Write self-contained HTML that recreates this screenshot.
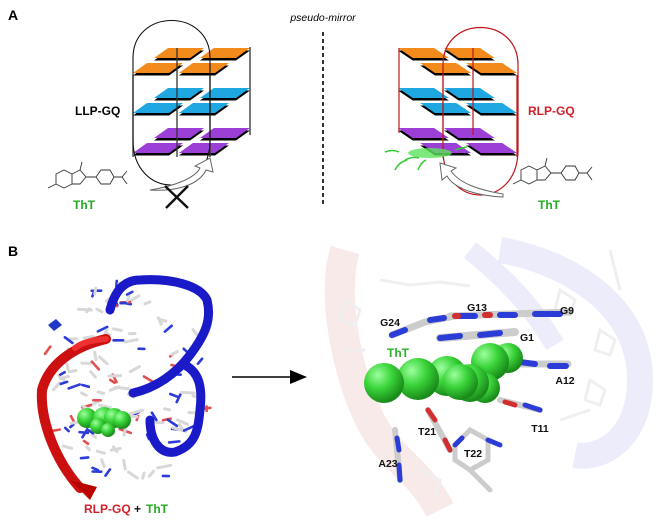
<!DOCTYPE html>
<html><head><meta charset="utf-8">
<style>
html,body{margin:0;padding:0;background:#fff;width:660px;height:523px;overflow:hidden}
svg{display:block}
text{font-family:"Liberation Sans",sans-serif}
</style></head><body>
<svg id="s" width="660" height="523" viewBox="0 0 660 523" xmlns="http://www.w3.org/2000/svg">
<defs>
<radialGradient id="g" cx="35%" cy="30%" r="70%"><stop offset="0" stop-color="#9dff9d"/><stop offset="0.5" stop-color="#3ad43a"/><stop offset="1" stop-color="#1a8a1a"/></radialGradient>
</defs>
<text x="8" y="20" font-size="14" font-weight="bold">A</text>
<text x="8" y="256" font-size="14" font-weight="bold">B</text>
<text x="323" y="21" font-size="10.5" font-style="italic" text-anchor="middle">pseudo-mirror</text>
<line x1="323" y1="32" x2="323" y2="205" stroke="#000" stroke-width="1.6" stroke-dasharray="4,3"/>

<g id="left"></g>
<path d="M133,75 L133,157 M177,48 L177,157 M210,75 L210,157 M250,47 L250,135" stroke="#333" stroke-width="1.3" fill="none"/>
<path d="M133,140 L133,58 C133,8 210,8 210,58 L210,140 C210,200 133,200 133,140" stroke="#111" stroke-width="1.1" fill="none"/>
<text x="75" y="115" font-size="12" font-weight="bold">LLP-GQ</text>
<g id="right"></g>
<path d="M399,48 L399,133 M443,70 L443,158 M473,48 L473,135 M517,75 L517,157" stroke="#c0141a" stroke-width="1.2" fill="none"/>
<path d="M443,140 L443,65 C443,15 518,15 518,65 L518,150 C518,210 443,210 443,150" stroke="#c0141a" stroke-width="1.2" fill="none"/>
<text x="528" y="115" font-size="12" font-weight="bold" fill="#d0212a">RLP-GQ</text>
<ellipse cx="430" cy="153" rx="22" ry="5" fill="#5de35d" opacity="0.8"/>
<path d="M385,152 q8,-3 14,0 M395,170 q4,-8 12,-10 M418,170 q3,-8 8,-10 M440,165 q6,4 12,6 M405,160 q8,-4 14,-2 M455,150 q6,-2 12,-3" stroke="#3c3" stroke-width="1.5" fill="none"/>
<path d="M150,190 C175,186 195,178 200,168 L195,166 L210,158 L213,172 L206,170 C200,183 180,192 150,190 Z" fill="#fff" stroke="#666" stroke-width="1"/>
<path d="M165,186 L188,208 M188,186 L166,208" stroke="#111" stroke-width="2.4"/>
<path d="M503,197 C480,196 455,190 447,176 L442,180 L440,163 L456,168 L451,171 C460,184 480,190 503,194 Z" fill="#fff" stroke="#666" stroke-width="1"/>
<g stroke="#333" stroke-width="0.9" fill="none">
<path d="M48,188 L56,184 M56,184 L56,174 L64,170 L72,174 L72,184 L64,188 Z M72,174 L80,170 L86,177 L80,184 L72,184 M86,177 L96,177 L101,170 L110,170 L114,177 L110,184 L101,184 L96,177 M114,177 L122,177 L127,171 M122,177 L127,184 M80,170 L82,162"/>
</g>
<text x="73" y="209" font-size="12" font-weight="bold" fill="#22aa22">ThT</text>
<g stroke="#333" stroke-width="0.9" fill="none">
<path d="M513,184 L521,180 M521,180 L521,170 L529,166 L537,170 L537,180 L529,184 Z M537,170 L545,166 L551,173 L545,180 L537,180 M551,173 L561,173 L566,166 L575,166 L579,173 L575,180 L566,180 L561,173 M579,173 L587,173 L592,167 M587,173 L592,180 M545,166 L547,158"/>
</g>
<text x="538" y="209" font-size="12" font-weight="bold" fill="#22aa22">ThT</text>

<line x1="232" y1="377" x2="292" y2="377" stroke="#000" stroke-width="1.5"/>
<polygon points="290,370 307,377 290,384" fill="#000"/>

<g opacity="0.45">
<path d="M345,250 C330,300 350,380 370,420 C390,460 420,470 440,510" stroke="#e9b0b0" stroke-width="30" fill="none" opacity="0.6"/>
<path d="M500,250 C560,260 640,300 640,380 C640,440 600,460 575,455" stroke="#b8b8ee" stroke-width="26" fill="none" opacity="0.6"/>
<path d="M470,250 C520,290 540,320 555,345" stroke="#b8b8ee" stroke-width="20" fill="none" opacity="0.6"/>
<g stroke="#ddd" stroke-width="3" fill="none">
<path d="M345,300 l15,10 l-5,15 l-15,-5 z M560,290 l15,10 l-5,15 l-15,-5 z M600,330 l15,10 l-5,15 l-15,-5 z M590,380 l15,10 l-5,15 l-15,-5 z M380,280 l30,5 l30,-3 l30,4 M345,350 l20,0 M560,420 l30,-10 M420,470 l20,10 l-5,15 M610,250 l10,40"/>
</g>
</g>
<g stroke-linecap="round" fill="none">
<path d="M392,335 L425,322 L455,316" stroke="#ccc" stroke-width="7"/>
<path d="M392,335 L405,330 M430,320 L444,318" stroke="#2c3cd6" stroke-width="6"/>
<path d="M450,316 L570,312" stroke="#ccc" stroke-width="7"/>
<path d="M460,316 L475,316 M500,315 L515,315 M535,314 L560,314" stroke="#2c3cd6" stroke-width="6"/>
<path d="M455,316 L458,316 M485,315 L490,315" stroke="#d03030" stroke-width="6"/>
<path d="M440,338 L515,332" stroke="#ccc" stroke-width="8"/>
<path d="M440,338 L460,336 M480,335 L500,333" stroke="#2c3cd6" stroke-width="6"/>
<path d="M520,364 L568,364" stroke="#ccc" stroke-width="7"/>
<path d="M520,362 L535,364 M550,366 L566,366" stroke="#2c3cd6" stroke-width="6"/>
<path d="M500,400 L540,410" stroke="#ccc" stroke-width="6"/>
<path d="M505,402 L515,405" stroke="#d03030" stroke-width="5"/>
<path d="M525,405 L540,410" stroke="#2c3cd6" stroke-width="5"/>
<path d="M428,410 L450,450" stroke="#ccc" stroke-width="6"/>
<path d="M428,410 L435,420 M445,440 L450,450" stroke="#d03030" stroke-width="5"/>
<path d="M455,445 L470,430 L488,440 L488,460 L470,470 L455,460 Z" stroke="#ccc" stroke-width="5"/>
<path d="M455,445 L462,438 M488,440 L500,445" stroke="#2c3cd6" stroke-width="5"/>
<path d="M395,430 L400,480" stroke="#ccc" stroke-width="6"/>
<path d="M397,438 L399,450 M399,465 L400,480" stroke="#2c3cd6" stroke-width="5"/>
<path d="M470,470 L490,490" stroke="#ccc" stroke-width="5"/>
</g>
<g>
<circle cx="508" cy="358" r="15" fill="url(#g)"/>
<circle cx="490" cy="362" r="19" fill="url(#g)"/>
<circle cx="485" cy="388" r="15" fill="url(#g)"/>
<circle cx="470" cy="383" r="19" fill="url(#g)"/>
<circle cx="447" cy="376" r="20" fill="url(#g)"/>
<circle cx="418" cy="379" r="21" fill="url(#g)"/>
<circle cx="384" cy="383" r="20" fill="url(#g)"/>
<circle cx="460" cy="382" r="18" fill="url(#g)"/>
</g>
<g font-size="10.5" font-weight="bold" text-anchor="middle" fill="#111">
<text x="477" y="311">G13</text><text x="390" y="326">G24</text><text x="567" y="314">G9</text>
<text x="527" y="341">G1</text><text x="565" y="384">A12</text><text x="540" y="432">T11</text>
<text x="427" y="435">T21</text><text x="473" y="457">T22</text><text x="388" y="467">A23</text>
</g>
<text x="398" y="357" font-size="12" font-weight="bold" fill="#2ab02a" text-anchor="middle">ThT</text>

<!-- B left -->
<g stroke-linecap="round" stroke-linejoin="round" fill="none">
<g id="sticks"></g>
<path d="M110,310 C115,290 125,280 140,280 C170,278 200,285 207,300 C212,320 205,335 190,355 C175,375 155,388 133,393" stroke="#1a1ac8" stroke-width="9"/>
<path d="M185,365 C198,372 203,385 200,410 C198,430 196,445 175,452 C160,455 150,440 150,420" stroke="#1a1ac8" stroke-width="9"/>
<path d="M106,339 C80,345 50,360 42,390 C40,420 55,460 80,488" stroke="#cc1010" stroke-width="10"/>
<path d="M106,339 C90,340 80,344 75,348" stroke="#ee3030" stroke-width="6"/>
<polygon points="70,480 97,487 90,500" fill="#b00"/>
<path d="M48,325 l8,-6 l6,6 l-8,6z" fill="#2238c8"/>
</g>
<circle cx="87" cy="418" r="10" fill="url(#g)"/>
<circle cx="104" cy="418" r="11" fill="url(#g)"/>
<circle cx="98" cy="426" r="8" fill="url(#g)"/>
<circle cx="114" cy="418" r="10" fill="url(#g)"/>
<circle cx="122" cy="420" r="9" fill="url(#g)"/>
<circle cx="108" cy="430" r="7" fill="url(#g)"/>
<text x="84" y="513" font-size="12" font-weight="bold" fill="#d0212a">RLP-GQ</text>
<text x="134" y="513" font-size="12" font-weight="bold" fill="#111">+</text>
<text x="146" y="513" font-size="12" font-weight="bold" fill="#22aa22">ThT</text>
</svg>
<script>
var NS="http://www.w3.org/2000/svg";
function tiles(gid,P0x,ux,vx,vy){
 var g=document.getElementById(gid);
 var layers=[[48,"#f28a1c"],[88,"#1ea7e1"],[128,"#9b3fd6"]];
 var us=[[0,0.44],[0.56,1]], vs=[[0,0.4],[0.6,1]];
 layers.forEach(function(L){
  var Y=L[0]+25;
  us.forEach(function(a){vs.forEach(function(b){
   var pts=[[a[0],b[0]],[a[1],b[0]],[a[1],b[1]],[a[0],b[1]]].map(function(p){
     return [P0x+p[0]*ux+p[1]*vx, Y+p[1]*vy];});
   var s1=pts.map(function(p){return p[0]+","+(p[1]+2.5)}).join(" ");
   var s2=pts.map(function(p){return p[0]+","+p[1]}).join(" ");
   var e=document.createElementNS(NS,"polygon");e.setAttribute("points",s1);e.setAttribute("fill","#000");g.appendChild(e);
   e=document.createElementNS(NS,"polygon");e.setAttribute("points",s2);e.setAttribute("fill",L[1]);g.appendChild(e);
  });});
 });
}
tiles("left",133,82,35,-25);
tiles("right",435,82,-37,-25);
// sticks for left structure (deterministic pseudo-random)
(function(){
 var g=document.getElementById("sticks");var seed=7;
 function r(){seed=(seed*9301+49297)%233280;return seed/233280;}
 var cols=["#d8d8d8","#d8d8d8","#d8d8d8","#2c3cd6","#2c3cd6","#e05050"];
 for(var i=0;i<170;i++){
  var x=50+r()*160,y=285+r()*195;
  // keep inside rough blob
  var dx=(x-128)/85,dy=(y-385)/100; if(dx*dx+dy*dy>1) continue;
  var a=r()*Math.PI*2,l=5+r()*10;
  var e=document.createElementNS(NS,"line");
  e.setAttribute("x1",x);e.setAttribute("y1",y);
  e.setAttribute("x2",x+Math.cos(a)*l);e.setAttribute("y2",y+Math.sin(a)*l*0.6);
  var c=cols[Math.floor(r()*cols.length)];
  e.setAttribute("stroke",c);e.setAttribute("stroke-width",c=="#d8d8d8"?3:2.6);
  g.appendChild(e);
 }
})();
</script>
</body></html>
